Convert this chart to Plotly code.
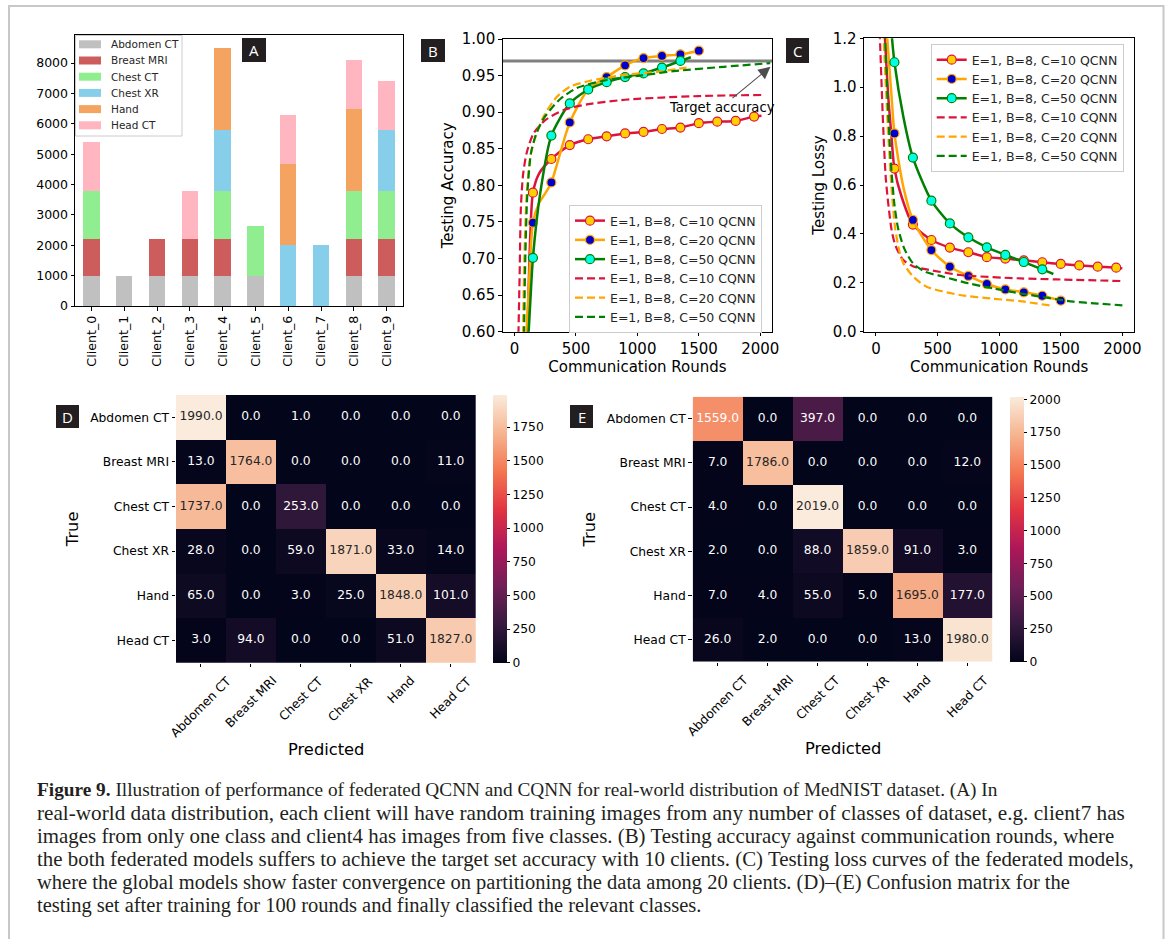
import plotly.graph_objects as go

W, H = 1168, 939

# ---------------- Panel A: images per class held by each client ----------------
clients = ["Client_0", "Client_1", "Client_2", "Client_3", "Client_4",
           "Client_5", "Client_6", "Client_7", "Client_8", "Client_9"]
classes = ["Abdomen CT", "Breast MRI", "Chest CT", "Chest XR", "Hand", "Head CT"]
class_colors = ["#c0c0c0", "#cd5c5c", "#90ee90", "#87ceeb", "#f4a460", "#ffb6c1"]

n_abdomen_ct = [1000, 1000, 1000, 1000, 1000, 1000, 0, 0, 1000, 1000]
n_breast_mri = [1200, 0, 1200, 1200, 1200, 0, 0, 0, 1200, 1200]
n_chest_ct = [1600, 0, 0, 0, 1600, 1630, 0, 0, 1600, 1600]
n_chest_xr = [0, 0, 0, 0, 2000, 0, 2000, 2000, 0, 2000]
n_hand = [0, 0, 0, 0, 2700, 0, 2690, 0, 2700, 0]
n_head_ct = [1600, 0, 0, 1600, 0, 0, 1600, 0, 1600, 1600]

# ---------------- Panel B: testing accuracy vs communication rounds ----------------
mark_rounds = [150, 300, 450, 600, 750, 900, 1050, 1200, 1350, 1500, 1650, 1800, 1950]

acc_q10_x = [105, 128, 150, 200, 300, 450, 600, 750, 900, 1050, 1200, 1350, 1500, 1650, 1800, 1950, 2010]
acc_q10_y = [0.59, 0.73, 0.790, 0.816, 0.836, 0.855, 0.863, 0.867, 0.871, 0.873, 0.877, 0.879, 0.885,
             0.887, 0.888, 0.894, 0.895]
acc_q20_x = [95, 125, 150, 200, 250, 300, 450, 600, 750, 900, 1050, 1200, 1350, 1500, 1540]
acc_q20_y = [0.59, 0.69, 0.749, 0.776, 0.789, 0.804, 0.886, 0.931, 0.948, 0.964, 0.974, 0.977, 0.979,
             0.984, 0.985]
acc_q50_x = [112, 130, 150, 210, 300, 450, 600, 750, 900, 1050, 1200, 1350, 1435]
acc_q50_y = [0.59, 0.645, 0.701, 0.790, 0.868, 0.912, 0.931, 0.941, 0.948, 0.953, 0.961, 0.970, 0.975]

acc_c10_x = [30, 42, 52, 70, 100, 155, 250, 400, 600, 900, 1200, 1500, 1800, 2010]
acc_c10_y = [0.58, 0.68, 0.77, 0.815, 0.845, 0.871, 0.889, 0.903, 0.911, 0.917, 0.920, 0.922, 0.923, 0.9235]
acc_c20_x = [68, 80, 100, 130, 168, 236, 345, 453, 616, 750, 887, 1159, 1400]
acc_c20_y = [0.58, 0.70, 0.79, 0.84, 0.865, 0.894, 0.921, 0.935, 0.943, 0.947, 0.951, 0.955, 0.961]
acc_c50_x = [76, 88, 105, 135, 180, 240, 290, 372, 507, 752, 1023, 1294, 1701, 2081]
acc_c50_y = [0.58, 0.70, 0.79, 0.845, 0.872, 0.892, 0.903, 0.918, 0.933, 0.944, 0.950, 0.956, 0.962, 0.967]

target_accuracy = 0.97

# ---------------- Panel C: testing loss vs communication rounds ----------------
loss_q10_x = [70, 100, 122, 150, 208, 300, 450, 600, 750, 900, 1050, 1200, 1350, 1500, 1650, 1800, 1950, 2000]
loss_q10_y = [1.23, 0.96, 0.825, 0.667, 0.552, 0.438, 0.375, 0.344, 0.325, 0.305, 0.299, 0.292, 0.284,
              0.277, 0.271, 0.266, 0.262, 0.259]
loss_q20_x = [87, 127, 150, 222, 300, 450, 600, 750, 900, 1050, 1200, 1350, 1500, 1526]
loss_q20_y = [1.23, 0.96, 0.811, 0.593, 0.457, 0.334, 0.266, 0.228, 0.195, 0.173, 0.161, 0.147, 0.127, 0.123]
loss_q50_x = [125, 150, 222, 300, 450, 600, 750, 900, 1050, 1200, 1350, 1440]
loss_q50_y = [1.23, 1.102, 0.88, 0.712, 0.536, 0.443, 0.386, 0.345, 0.314, 0.285, 0.255, 0.236]

loss_c10_x = [30, 60, 81, 127, 160, 222, 300, 411, 682, 1169, 1467, 2008]
loss_c10_y = [1.23, 0.825, 0.62, 0.416, 0.35, 0.293, 0.268, 0.255, 0.232, 0.218, 0.214, 0.207]
loss_c20_x = [60, 95, 125, 154, 190, 222, 303, 411, 682, 950, 1169, 1426]
loss_c20_y = [1.23, 0.85, 0.60, 0.43, 0.33, 0.28, 0.225, 0.184, 0.150, 0.135, 0.125, 0.106]
loss_c50_x = [72, 95, 120, 150, 181, 230, 300, 400, 547, 750, 953, 1169, 1400, 1602, 1800, 2000]
loss_c50_y = [1.23, 0.95, 0.70, 0.52, 0.42, 0.34, 0.28, 0.245, 0.225, 0.198, 0.177, 0.157, 0.138,
              0.123, 0.115, 0.108]

series_names = ["E=1, B=8, C=10 QCNN", "E=1, B=8, C=20 QCNN", "E=1, B=8, C=50 QCNN",
                "E=1, B=8, C=10 CQNN", "E=1, B=8, C=20 CQNN", "E=1, B=8, C=50 CQNN"]
line_colors = ["#dc143c", "#ffa500", "#008000"]
marker_faces = ["#ffd000", "#0000cd", "#00ffe6"]

# ---------------- Panels D, E: confusion matrices ----------------
cm_qcnn = [[1990, 0, 1, 0, 0, 0],
           [13, 1764, 0, 0, 0, 11],
           [1737, 0, 253, 0, 0, 0],
           [28, 0, 59, 1871, 33, 14],
           [65, 0, 3, 25, 1848, 101],
           [3, 94, 0, 0, 51, 1827]]
cm_cqnn = [[1559, 0, 397, 0, 0, 0],
           [7, 1786, 0, 0, 0, 12],
           [4, 0, 2019, 0, 0, 0],
           [2, 0, 88, 1859, 91, 3],
           [7, 4, 55, 5, 1695, 177],
           [26, 2, 0, 0, 13, 1980]]

caption_lines = [
    "<b>Figure 9.</b> Illustration of performance of federated QCNN and CQNN for real-world distribution of MedNIST dataset. (A) In",
    "real-world data distribution, each client will have random training images from any number of classes of dataset, e.g. client7 has",
    "images from only one class and client4 has images from five classes. (B) Testing accuracy against communication rounds, where",
    "the both federated models suffers to achieve the target set accuracy with 10 clients. (C) Testing loss curves of the federated models,",
    "where the global models show faster convergence on partitioning the data among 20 clients. (D)\u2013(E) Confusion matrix for the",
    "testing set after training for 100 rounds and finally classified the relevant classes.",
]
caption_sizes = [19.3, 21.2, 20.9, 20.9, 20.5, 20.5]

# rocket colour map
rocket_stops = [0.0, 1 / 7, 2 / 7, 3 / 7, 4 / 7, 5 / 7, 6 / 7, 1.0]
rocket_hex = ["#03051a", "#35193e", "#701f57", "#ad1759", "#e13342", "#f37651", "#f6b48f", "#faebdd"]
rocket = [[s, c] for s, c in zip(rocket_stops, rocket_hex)]

FONT = "DejaVu Sans"


def px(xp):
    return xp / W


def py(yp):
    return 1 - yp / H


def hex_rgb(h):
    return [int(h[i:i + 2], 16) / 255 for i in (1, 3, 5)]


def luminance_at(t):
    for i in range(len(rocket_stops) - 1):
        if rocket_stops[i] <= t <= rocket_stops[i + 1]:
            f = (t - rocket_stops[i]) / (rocket_stops[i + 1] - rocket_stops[i])
            a, b = hex_rgb(rocket_hex[i]), hex_rgb(rocket_hex[i + 1])
            rgb = [a[k] + f * (b[k] - a[k]) for k in range(3)]
            lin = [c / 12.92 if c <= 0.03928 else ((c + 0.055) / 1.055) ** 2.4 for c in rgb]
            return 0.2126 * lin[0] + 0.7152 * lin[1] + 0.0722 * lin[2]
    return 1.0


fig = go.Figure()

# ---- A: stacked bars ----
for name, col, vals in zip(classes, class_colors,
                           [n_abdomen_ct, n_breast_mri, n_chest_ct, n_chest_xr, n_hand, n_head_ct]):
    fig.add_trace(go.Bar(x=clients, y=vals, name=name, width=0.5, showlegend=False,
                         marker=dict(color=col, line=dict(width=0)), xaxis="x", yaxis="y"))


# ---- B and C: curves ----
def add_panel(q_series, c_series, xa, ya, legend_id):
    for i, (xs, ys) in enumerate(q_series):
        col = line_colors[i]
        fig.add_trace(go.Scatter(x=xs, y=ys, mode="lines", showlegend=False,
                                 line=dict(color=col, width=2.5, shape="spline", smoothing=0.7),
                                 xaxis=xa, yaxis=ya, hoverinfo="skip"))
        mx = [x for x in xs if x in mark_rounds]
        my = [y for x, y in zip(xs, ys) if x in mark_rounds]
        fig.add_trace(go.Scatter(x=mx, y=my, mode="markers", showlegend=False,
                                 marker=dict(size=9, color=marker_faces[i], line=dict(color=col, width=1.2)),
                                 xaxis=xa, yaxis=ya))
    for i, (xs, ys) in enumerate(c_series):
        fig.add_trace(go.Scatter(x=xs, y=ys, mode="lines", showlegend=False,
                                 line=dict(color=line_colors[i], width=2.2, dash="8px,4px",
                                           shape="spline", smoothing=0.7),
                                 xaxis=xa, yaxis=ya))
    # legend entries
    for i in range(3):
        fig.add_trace(go.Scatter(x=[None], y=[None], mode="lines+markers", name=series_names[i],
                                 line=dict(color=line_colors[i], width=2.5),
                                 marker=dict(size=9, color=marker_faces[i], line=dict(color=line_colors[i], width=1.2)),
                                 legend=legend_id, xaxis=xa, yaxis=ya))
    for i in range(3):
        fig.add_trace(go.Scatter(x=[None], y=[None], mode="lines", name=series_names[3 + i],
                                 line=dict(color=line_colors[i], width=2.2, dash="8px,4px"),
                                 legend=legend_id, xaxis=xa, yaxis=ya))


add_panel([(acc_q10_x, acc_q10_y), (acc_q20_x, acc_q20_y), (acc_q50_x, acc_q50_y)],
          [(acc_c10_x, acc_c10_y), (acc_c20_x, acc_c20_y), (acc_c50_x, acc_c50_y)],
          "x2", "y2", "legend")
add_panel([(loss_q10_x, loss_q10_y), (loss_q20_x, loss_q20_y), (loss_q50_x, loss_q50_y)],
          [(loss_c10_x, loss_c10_y), (loss_c20_x, loss_c20_y), (loss_c50_x, loss_c50_y)],
          "x3", "y3", "legend2")


# ---- D and E: confusion matrices ----
def add_cm(cm, xa, ya, cb_left, cb_top, cb_bottom, ticks):
    zmax = max(max(r) for r in cm)
    fig.add_trace(go.Heatmap(
        z=cm, x=classes, y=classes, colorscale=rocket, zmin=0, zmax=zmax,
        xaxis=xa, yaxis=ya, hoverinfo="skip",
        colorbar=dict(x=px(cb_left), xanchor="left", xpad=0, ypad=0,
                      y=py((cb_top + cb_bottom) / 2), yanchor="middle",
                      len=(cb_bottom - cb_top) / H, lenmode="fraction",
                      thickness=14, thicknessmode="pixels", outlinewidth=0,
                      ticks="outside", ticklen=3.5, tickwidth=1, tickcolor="black",
                      tickvals=ticks, tickfont=dict(size=12.3, family=FONT, color="black"))))
    tx, ty, tt, tc = [], [], [], []
    for r, row in enumerate(cm):
        for c, v in enumerate(row):
            tx.append(classes[c])
            ty.append(classes[r])
            tt.append(f"{v:.1f}")
            tc.append("#262626" if luminance_at(v / zmax) > 0.408 else "white")
    fig.add_trace(go.Scatter(x=tx, y=ty, text=tt, mode="text", showlegend=False,
                             textfont=dict(size=12.3, family=FONT, color=tc),
                             xaxis=xa, yaxis=ya, hoverinfo="skip"))


add_cm(cm_qcnn, "x4", "y4", 493.3, 395, 662.7, [0, 250, 500, 750, 1000, 1250, 1500, 1750])
add_cm(cm_cqnn, "x5", "y5", 1010, 396.7, 661.7, [0, 250, 500, 750, 1000, 1250, 1500, 1750, 2000])

# ---------------- axes ----------------
box = dict(showline=True, linecolor="black", linewidth=1, mirror=True, ticks="outside", ticklen=3.5,
           tickwidth=1, tickcolor="black", showgrid=False, zeroline=False)
cm_ax = dict(showline=False, ticks="outside", ticklen=3.5, tickwidth=1, tickcolor="black",
             showgrid=False, zeroline=False, type="category")
tf = lambda s: dict(size=s, family=FONT, color="black")

layout_axes = dict(
    xaxis=dict(domain=[px(75), px(403)], anchor="y", type="category", range=[-0.5, 9.5],
               tickangle=-90, tickfont=tf(12.7), **box),
    yaxis=dict(domain=[py(306), py(35)], anchor="x", range=[0, 8925],
               tickvals=[0, 1000, 2000, 3000, 4000, 5000, 6000, 7000, 8000], tickfont=tf(12.5), **box),
    xaxis2=dict(domain=[px(502.7), px(772.3)], anchor="y2", range=[-96, 2098],
                tickvals=[0, 500, 1000, 1500, 2000], tickfont=tf(15),
                title=dict(text="Communication Rounds", font=tf(15), standoff=3), **box),
    yaxis2=dict(domain=[py(331.7), py(39)], anchor="x2", range=[0.6, 1.0],
                tickvals=[0.6, 0.65, 0.7, 0.75, 0.8, 0.85, 0.9, 0.95, 1.0], tickformat=".2f", tickfont=tf(15),
                title=dict(text="Testing Accuracy", font=tf(15), standoff=4), **box),
    xaxis3=dict(domain=[px(864), px(1134.3)], anchor="y3", range=[-97, 2097],
                tickvals=[0, 500, 1000, 1500, 2000], tickfont=tf(15),
                title=dict(text="Communication Rounds", font=tf(15), standoff=3), **box),
    yaxis3=dict(domain=[py(331.7), py(38.3)], anchor="x3", range=[0, 1.2],
                tickvals=[0, 0.2, 0.4, 0.6, 0.8, 1.0, 1.2], tickformat=".1f", tickfont=tf(15),
                title=dict(text="Testing Lossy", font=tf(15), standoff=4), **box),
    xaxis4=dict(domain=[px(176), px(475.7)], anchor="y4", range=[-0.5, 5.5], showticklabels=False, **cm_ax),
    yaxis4=dict(domain=[py(662.7), py(395)], anchor="x4", range=[5.5, -0.5],
                tickfont=tf(12.3), title=dict(text="True", font=tf(16.3), standoff=7), **cm_ax),
    xaxis5=dict(domain=[px(692.7), px(992.3)], anchor="y5", range=[-0.5, 5.5], showticklabels=False, **cm_ax),
    yaxis5=dict(domain=[py(661.7), py(396.7)], anchor="x5", range=[5.5, -0.5],
                tickfont=tf(12.3), title=dict(text="True", font=tf(16.3), standoff=7), **cm_ax),
)

shapes = []
annotations = []

# outer frame of the figure
shapes.append(dict(type="rect", xref="paper", yref="paper", x0=px(9), x1=px(1163.5), y0=py(950), y1=py(6),
                   line=dict(color="#c8c8c8", width=2), fillcolor="rgba(0,0,0,0)", layer="below"))

# target accuracy line in B
shapes.append(dict(type="line", xref="x2 domain", yref="y2", x0=0, x1=1, y0=target_accuracy, y1=target_accuracy,
                   line=dict(color="#808080", width=3), layer="below"))
annotations.append(dict(x=2083, y=0.962, xref="x2", yref="y2", ax=1685, ay=0.907, axref="x2", ayref="y2",
                        text="Target accuracy", showarrow=True, arrowhead=2, arrowsize=2.2, arrowwidth=1.1,
                        arrowcolor="#4d4d4d", font=dict(size=13.2, family=FONT, color="black")))

# rotated class labels under the confusion matrices (centred on their ticks) and the axis title
for xa, label_top, title_y in [("x4", 671, 749), ("x5", 670, 748)]:
    for name in classes:
        annotations.append(dict(x=name, y=py(label_top), xref=xa, yref="paper", text=name, showarrow=False,
                                textangle=-45, xanchor="center", yanchor="top",
                                font=dict(size=12.3, family=FONT, color="black")))
    annotations.append(dict(x=0.5, y=py(title_y), xref=f"{xa} domain", yref="paper", text="Predicted",
                            showarrow=False, xanchor="center", yanchor="middle",
                            font=dict(size=16.3, family=FONT, color="black")))

# legend of panel A
leg_top, leg_row = 44.3, 16.2
shapes.append(dict(type="rect", xref="paper", yref="paper", x0=px(75.5), x1=px(182), y0=py(136), y1=py(35.5),
                   line=dict(color="#cccccc", width=1), fillcolor="rgba(255,255,255,0.8)"))
for k, (name, col) in enumerate(zip(classes, class_colors)):
    yc = leg_top + k * leg_row
    shapes.append(dict(type="rect", xref="paper", yref="paper", x0=px(79), x1=px(101),
                       y0=py(yc + 4), y1=py(yc - 4), line=dict(width=0), fillcolor=col))
    annotations.append(dict(x=px(109), y=py(yc), xref="paper", yref="paper", text=name, showarrow=False,
                            xanchor="left", yanchor="middle", font=dict(size=10.5, family=FONT, color="#262626")))

# panel tags
for tag, (x0, y0, x1, y1) in zip("ABCDE", [(242, 38, 266, 62), (421, 39, 445, 62), (786, 38, 809, 63),
                                           (56, 405, 79, 428), (570, 405, 593, 428)]):
    shapes.append(dict(type="rect", xref="paper", yref="paper", x0=px(x0), x1=px(x1), y0=py(y1), y1=py(y0),
                       line=dict(width=0), fillcolor="#231f20"))
    annotations.append(dict(x=px((x0 + x1) / 2), y=py((y0 + y1) / 2), xref="paper", yref="paper", text=tag,
                            showarrow=False, xanchor="center", yanchor="middle",
                            font=dict(size=15, family="Open Sans", color="white")))

# caption
for k, (line, size) in enumerate(zip(caption_lines, caption_sizes)):
    annotations.append(dict(x=px(35), y=py(790 + 23 * k), xref="paper", yref="paper", text=line,
                            showarrow=False, xanchor="left", yanchor="middle", align="left",
                            font=dict(size=size, family="Liberation Serif", color="#231f20")))

legend_style = dict(xanchor="left", yanchor="top", bgcolor="rgba(255,255,255,0.8)", bordercolor="#cccccc",
                    borderwidth=1, font=dict(size=12.5, family=FONT, color="#262626"), itemwidth=30,
                    tracegroupgap=0, traceorder="normal")

fig.update_layout(
    template="none",
    width=W, height=H, autosize=False,
    margin=dict(l=0, r=0, t=0, b=0),
    paper_bgcolor="white", plot_bgcolor="white",
    font=dict(family=FONT, color="black"),
    barmode="stack", bargap=0.5,
    legend=dict(x=px(569), y=py(205), **legend_style),
    legend2=dict(x=px(930.7), y=py(44), **legend_style),
    shapes=shapes, annotations=annotations,
    **layout_axes,
)

fig.write_html("out.html")
